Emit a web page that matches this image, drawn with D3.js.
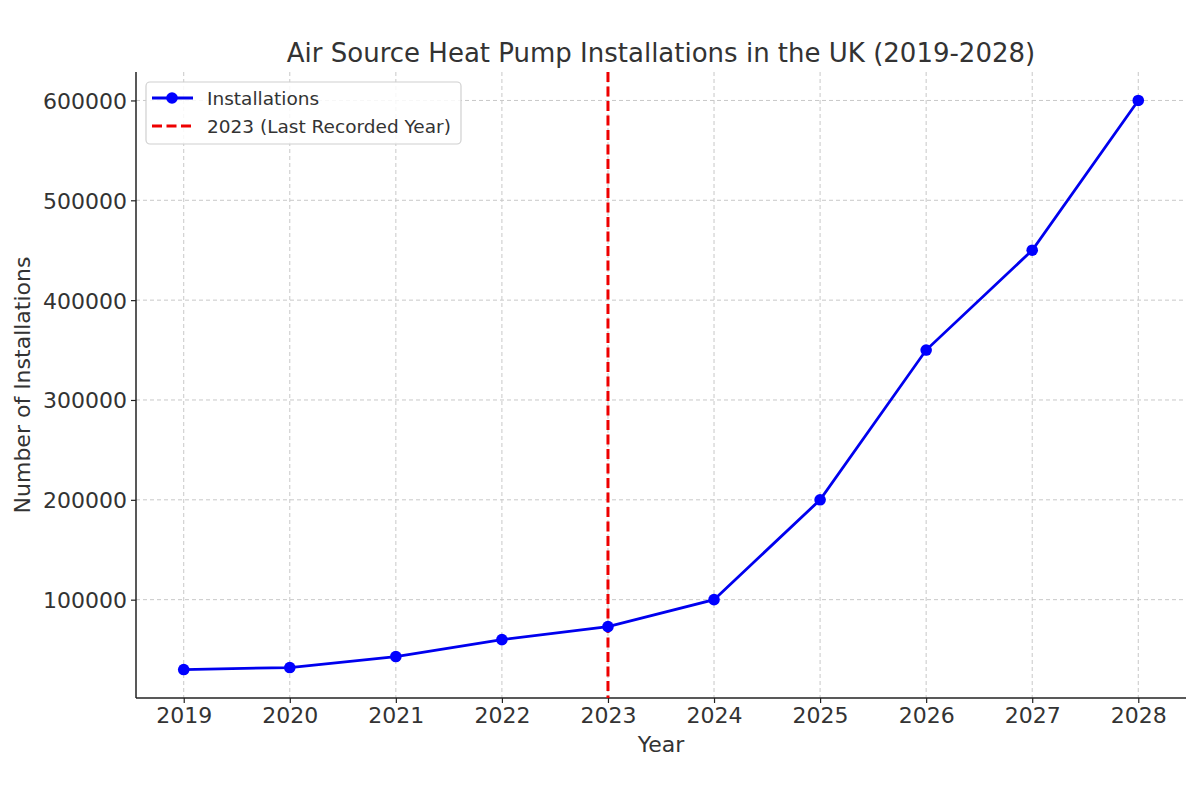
<!DOCTYPE html>
<html><head><meta charset="utf-8">
<script src="https://cdn.jsdelivr.net/npm/d3@7"></script>
<style>body{margin:0;background:#fff;}svg{display:block;font-family:"DejaVu Sans",sans-serif;}</style>
</head><body><svg id="c" width="1200" height="800"></svg>
<script>
const years = [2019,2020,2021,2022,2023,2024,2025,2026,2027,2028];
const installations = [30000,32000,43000,60000,73000,100000,200000,350000,450000,600000];
const yTicks = [100000,200000,300000,400000,500000,600000];
const lastRecordedYear = 2023;
const title = "Air Source Heat Pump Installations in the UK (2019-2028)";
const xLabel = "Year", yLabel = "Number of Installations";
const legendLabels = ["Installations","2023 (Last Recorded Year)"];

const svg = d3.select("#c");
const L=136, R=1186, T=72, B=698;
const x = d3.scaleLinear().domain([2018.55,2028.45]).range([L,R]);
const y = d3.scaleLinear().domain([1500,628500]).range([B,T]);
const txt="#333";

// grid
const g = svg.append("g");
g.selectAll(".vx").data(years).join("line").attr("x1",d=>x(d)).attr("x2",d=>x(d)).attr("y1",T).attr("y2",B)
 .attr("stroke","#c8c8c8").attr("stroke-width",1).attr("stroke-dasharray","4,3");
g.selectAll(".hy").data(yTicks).join("line").attr("y1",d=>y(d)).attr("y2",d=>y(d)).attr("x1",L).attr("x2",R)
 .attr("stroke","#c8c8c8").attr("stroke-width",1).attr("stroke-dasharray","4,3");

// axes
const xa = svg.append("g").attr("transform",`translate(0,${B})`)
 .call(d3.axisBottom(x).tickValues(years).tickFormat(d3.format("d")).tickSize(5).tickPadding(5));
const ya = svg.append("g").attr("transform",`translate(${L},0)`)
 .call(d3.axisLeft(y).tickValues(yTicks).tickFormat(d3.format("d")).tickSize(5).tickPadding(4));
[xa,ya].forEach(a=>{a.select(".domain").attr("stroke","#222").attr("stroke-width",1.5);
 a.selectAll(".tick line").attr("stroke","#222").attr("stroke-width",1.2);
 a.selectAll("text").attr("fill",txt).style("font-size","22px").style("font-family","DejaVu Sans");});
xa.selectAll("text").attr("y",null).attr("dy",null).attr("y",25);
ya.selectAll("text").attr("dy","0.36em");
xa.select(".domain").attr("d",`M${L},0H${R}`);
ya.select(".domain").attr("d",`M0,${T}V${B}`);

// red line
svg.append("line").attr("x1",x(lastRecordedYear)).attr("x2",x(lastRecordedYear)).attr("y1",T).attr("y2",B)
 .attr("stroke","#ee0000").attr("stroke-width",3).attr("stroke-dasharray","10,4.5");

// series
const pts = years.map((d,i)=>[d,installations[i]]);
svg.append("path").datum(pts).attr("fill","none").attr("stroke","#0000ee").attr("stroke-width",2.8)
 .attr("d",d3.line().x(d=>x(d[0])).y(d=>y(d[1])));
svg.selectAll(".pt").data(pts).join("circle").attr("cx",d=>x(d[0])).attr("cy",d=>y(d[1])).attr("r",5.8).attr("fill","#0000ff");

// title & labels
svg.append("text").attr("x",(L+R)/2).attr("y",62).attr("text-anchor","middle").attr("fill",txt)
 .style("font-size","26px").text(title);
svg.append("text").attr("x",(L+R)/2).attr("y",752).attr("text-anchor","middle").attr("fill",txt)
 .style("font-size","22px").text(xLabel);
svg.append("text").attr("transform",`translate(30,${(T+B)/2}) rotate(-90)`).attr("text-anchor","middle").attr("fill",txt)
 .style("font-size","22px").text(yLabel);

// legend
const lg = svg.append("g");
lg.append("rect").attr("x",146).attr("y",82).attr("width",315).attr("height",62).attr("rx",4)
 .attr("fill","#fff").attr("fill-opacity",0.85).attr("stroke","#d0d0d0").attr("stroke-width",1.2);
lg.append("line").attr("x1",152).attr("x2",193).attr("y1",98).attr("y2",98).attr("stroke","#0000ee").attr("stroke-width",2.8);
lg.append("circle").attr("cx",172).attr("cy",98).attr("r",5.8).attr("fill","#0000ff");
lg.append("line").attr("x1",152).attr("x2",193).attr("y1",126).attr("y2",126).attr("stroke","#ee0000").attr("stroke-width",3).attr("stroke-dasharray","10,4.5");
lg.selectAll(".lt").data(legendLabels).join("text").attr("x",207).attr("y",(d,i)=>98+i*28).attr("dy","0.36em")
 .attr("fill",txt).style("font-size","18.5px").text(d=>d);
</script></body></html>
